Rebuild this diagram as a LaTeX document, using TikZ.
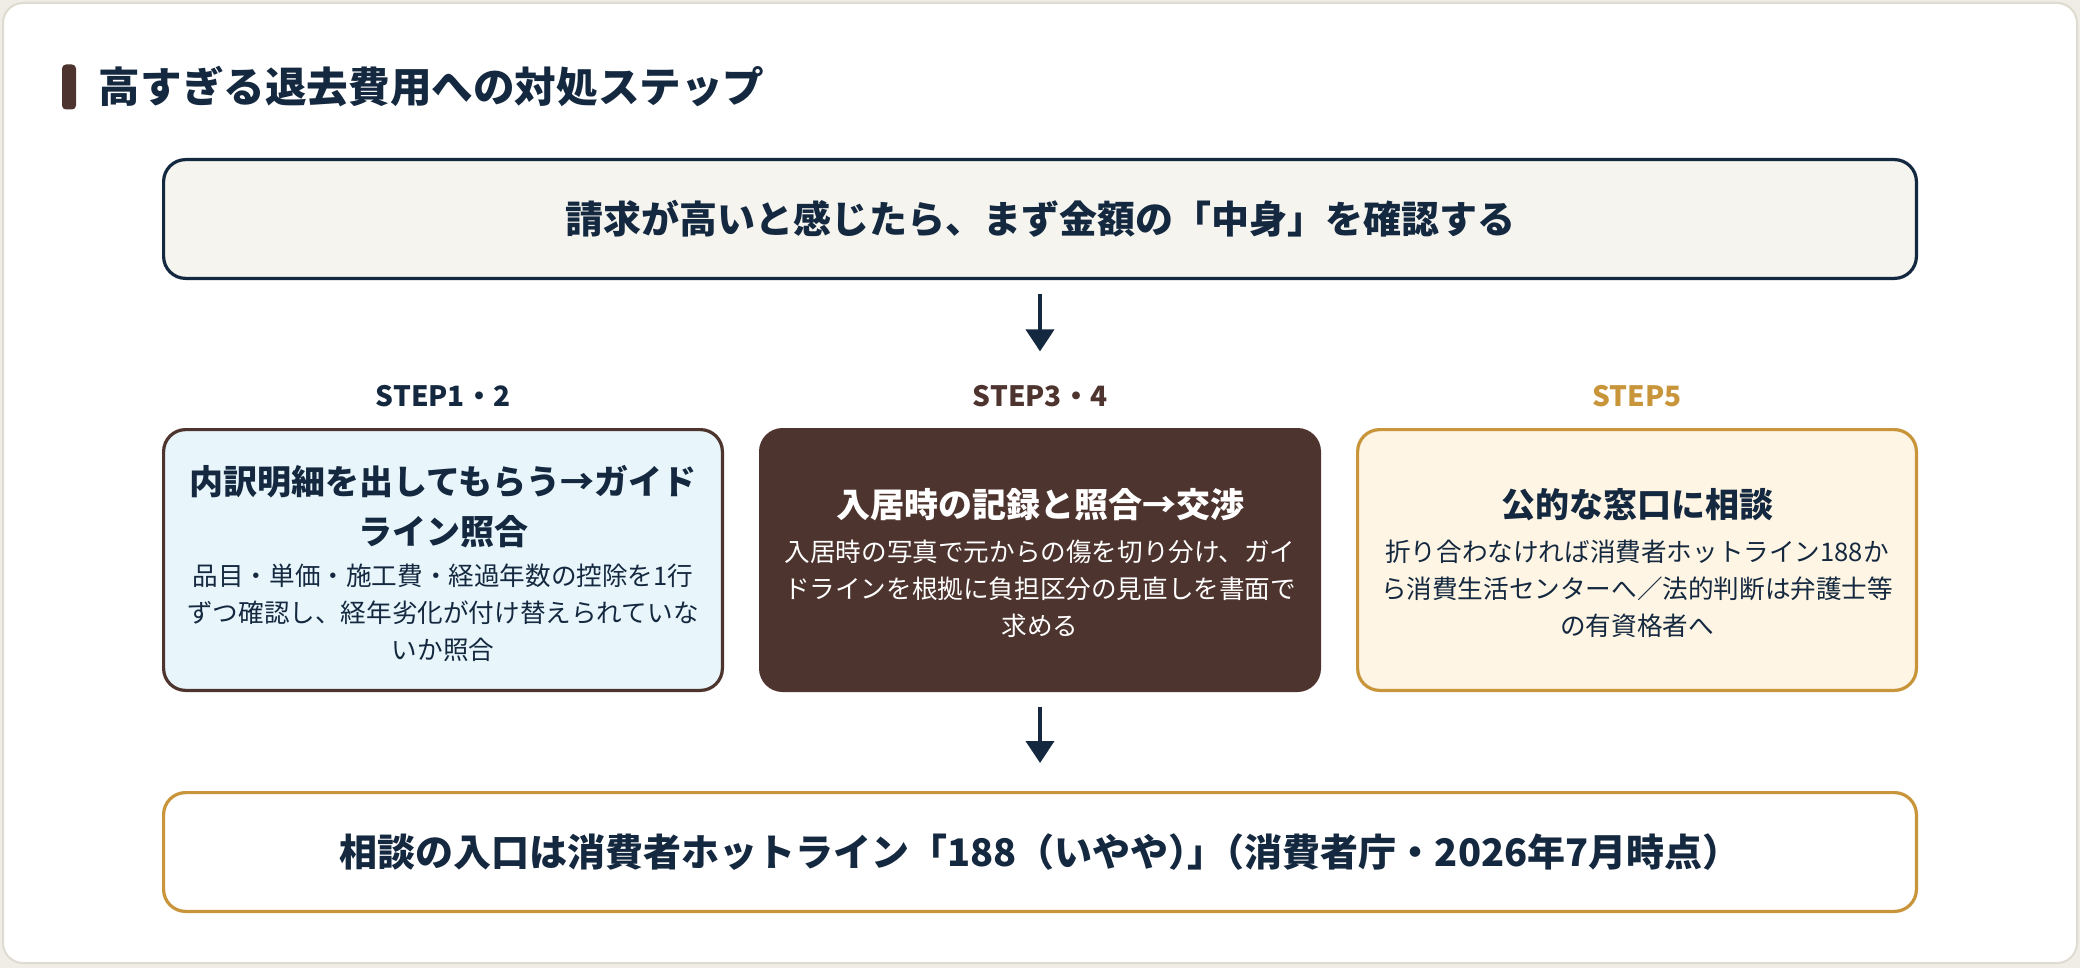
\documentclass[tikz,border=0pt]{standalone}
\usepackage{fontspec}
\setmainfont{Noto Sans CJK JP}
\usepackage{xcolor}
\usepackage{tikz}
\usetikzlibrary{arrows.meta,positioning}
\definecolor{navy}{HTML}{14283F}
\definecolor{cocoa}{HTML}{4E342E}
\definecolor{gold}{HTML}{C8953A}
\definecolor{pagebg}{HTML}{EFEDE6}
\definecolor{cardline}{HTML}{DEDBD0}
\definecolor{topfill}{HTML}{F5F4EF}
\definecolor{skyfill}{HTML}{E8F6FC}
\definecolor{creamfill}{HTML}{FEF5E4}
\newcommand{\trim}{\kern-.5em}
\begin{document}
\begin{tikzpicture}[
  box/.style={draw,rounded corners=11pt,line width=1.6pt,align=center,inner sep=0pt},
  wide/.style={box,minimum width=876.4pt,minimum height=59.4pt,text=navy,font=\fontsize{19}{23}\selectfont\bfseries},
  stepbox/.style={box,minimum width=279.4pt,minimum height=130.4pt},
  head/.style={align=center,inner sep=0pt,font=\fontsize{17}{25}\selectfont\bfseries},
  body/.style={align=center,inner sep=0pt,font=\fontsize{12.8}{18.5}\selectfont},
  stepl/.style={inner sep=0pt,text height=10.2pt,text depth=0pt,font=\fontsize{14}{16}\selectfont\bfseries},
  arr/.style={-{Triangle[length=11pt,width=14pt]},line width=2pt,draw=navy}]
\fill[pagebg] (0,0) rectangle (1040pt,-484pt);
\path[use as bounding box] (0,0) rectangle (1040pt,-484pt);
\draw[cardline,fill=white,line width=1pt,rounded corners=10pt] (1.5pt,-1.5pt) rectangle (1038.5pt,-481.5pt);
\node[fill=cocoa,rounded corners=2pt,inner sep=0pt,minimum width=7pt,minimum height=22.5pt] (bar) at (34.5pt,-43.5pt) {};
\node[right=11pt of bar,inner sep=0pt,text=navy,font=\fontsize{20.8}{25}\selectfont\bfseries] (title) {高すぎる退去費用への対処ステップ};
\node[wide,fill=topfill,draw=navy] (top) at (520pt,-109.5pt) {請求が高いと感じたら、まず金額の「中身」を確認する};
\node[stepbox,fill=cocoa,draw=cocoa,below=74pt of top] (record) {};
\node[stepbox,fill=skyfill,draw=cocoa,left=17.5pt of record] (detail) {};
\node[stepbox,fill=creamfill,draw=gold,right=17.5pt of record] (public) {};
\node[wide,fill=white,draw=gold,below=49.5pt of record] (entry) {相談の入口は消費者ホットライン「188（いやや）\trim」\trim（消費者庁・2026年7月時点）};
\node[stepl,text=navy,above=10.5pt of detail] (lab1) {STEP1・2};
\node[stepl,text=cocoa,above=10.5pt of record] (lab2) {STEP3・4};
\node[stepl,text=gold,above=10.5pt of public] (lab3) {STEP5};
\node[head,text=navy,below=18.3pt of detail.north] (h1) {内訳明細を出してもらう→ガイド\\ライン照合};
\node[body,text=navy,below=8pt of h1] (b1) {品目・単価・施工費・経過年数の控除を1行\\ずつ確認し、経年劣化が付け替えられていな\\いか照合};
\node[head,text=white,below=30pt of record.north] (h2) {入居時の記録と照合→交渉};
\node[body,text=white,below=9pt of h2] (b2) {入居時の写真で元からの傷を切り分け、ガイ\\ドラインを根拠に負担区分の見直しを書面で\\求める};
\node[head,text=navy,below=30pt of public.north] (h3) {公的な窓口に相談};
\node[body,text=navy,below=9pt of h3] (b3) {折り合わなければ消費者ホットライン188か\\ら消費生活センターへ／法的判断は弁護士等\\の有資格者へ};
\draw[arr,shorten <=7pt,shorten >=17.2pt] (top) -- (lab2);
\draw[arr,shorten <=7.5pt,shorten >=14pt] (record) -- (entry);
\end{tikzpicture}
\end{document}
